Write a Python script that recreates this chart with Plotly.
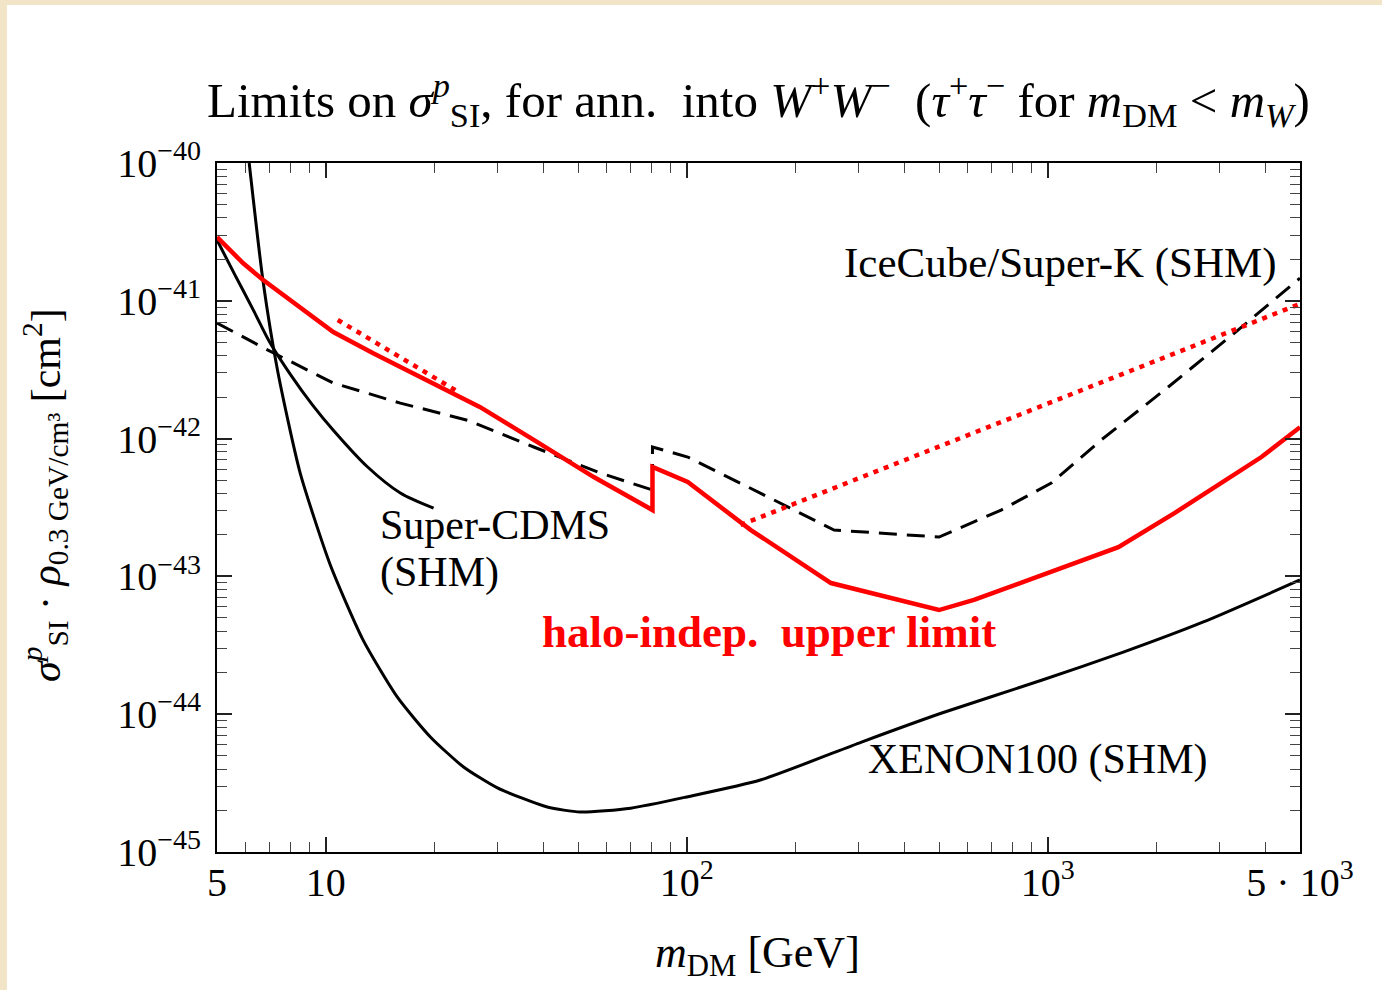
import plotly.graph_objects as go

# ---------------- data ----------------
red_m = [5, 5.9, 6.7, 8.5, 10.5, 13.5, 16.8, 26.8, 37.7, 55.3, 80.4, 80.4, 100.7,
         150.6, 251, 500, 625, 743, 1570, 2245, 3030, 3910, 5000]
red_s = [2.90e-41, 1.88e-41, 1.42e-41, 9.0e-42, 5.94e-42, 4.18e-42, 3.15e-42, 1.69e-42,
         9.8e-43, 5.26e-43, 3.03e-43, 6.22e-43, 4.84e-43, 2.17e-43, 8.95e-44, 5.70e-44,
         6.75e-44, 7.96e-44, 1.63e-43, 2.88e-43, 4.76e-43, 7.35e-43, 1.21e-42]

red_dot1_m = [10.8, 23.6]
red_dot1_s = [7.26e-42, 2.14e-42]

red_dot2_m = [141, 5000]
red_dot2_s = [2.36e-43, 9.5e-42]

ice_m = [5, 6.9, 10.5, 16.1, 24.7, 37.7, 57.7, 80.4, 80.4, 100.7, 168, 256, 500, 743,
         1023, 1407, 2158, 3290, 5000]
ice_s = [6.90e-42, 4.40e-42, 2.53e-42, 1.81e-42, 1.36e-42, 8.69e-43, 5.62e-43, 4.24e-43,
         8.69e-43, 7.35e-43, 3.77e-43, 2.17e-43, 1.93e-43, 3.03e-43, 4.76e-43, 9.77e-43,
         2.37e-42, 5.83e-42, 1.46e-41]

cdms_m = [5, 5.6, 6.3, 7.0, 8.0, 9.2, 10.5, 13.0, 16.1, 19.9]
cdms_s = [2.76e-41, 1.55e-41, 8.6e-42, 5.0e-42, 2.9e-42, 1.75e-42, 1.15e-42, 6.3e-43,
          4.03e-43, 3.13e-43]

xe_m = [6.14, 6.7, 7.38, 8.5, 10.3, 12.7, 15.8, 19.5, 24.1, 29.9, 41.1, 50.8, 70, 100,
        160, 305, 509, 966, 1620, 2700, 5000]
xe_s = [1.0e-40, 1.416e-41, 2.99e-42, 5.62e-43, 1.21e-43, 3.45e-44, 1.33e-44, 6.84e-45,
        4.14e-45, 2.92e-45, 2.12e-45, 1.95e-45, 2.08e-45, 2.51e-45, 3.33e-45, 6.28e-45,
        1.02e-44, 1.77e-44, 2.82e-44, 4.67e-44, 9.42e-44]

x_tickvals = [5, 10, 100, 1000, 5000]
x_ticktext = ["5", "10", "10<sup>2</sup>", "10<sup>3</sup>", "5 · 10<sup>3</sup>"]
y_tickvals = [1e-45, 1e-44, 1e-43, 1e-42, 1e-41, 1e-40]
y_ticktext = ["10<sup>−45</sup>", "10<sup>−44</sup>", "10<sup>−43</sup>",
              "10<sup>−42</sup>", "10<sup>−41</sup>", "10<sup>−40</sup>"]

FONT = "Liberation Serif"
RED = "#ff0000"

fig = go.Figure()
fig.add_trace(go.Scatter(x=xe_m, y=xe_s, mode="lines", line=dict(color="black", width=3, shape="spline", smoothing=0.6)))
fig.add_trace(go.Scatter(x=cdms_m, y=cdms_s, mode="lines", line=dict(color="black", width=3, shape="spline", smoothing=0.8)))
fig.add_trace(go.Scatter(x=ice_m, y=ice_s, mode="lines", line=dict(color="black", width=3, dash="18px,10px")))
fig.add_trace(go.Scatter(x=red_dot1_m, y=red_dot1_s, mode="lines", line=dict(color=RED, width=4.5, dash="5px,6px")))
fig.add_trace(go.Scatter(x=red_dot2_m, y=red_dot2_s, mode="lines", line=dict(color=RED, width=4.5, dash="5px,6px")))
fig.add_trace(go.Scatter(x=red_m, y=red_s, mode="lines", line=dict(color=RED, width=4.5)))

axis_common = dict(
    type="log", showgrid=False, zeroline=False, showline=True, linecolor="black",
    linewidth=2, mirror="allticks", ticks="inside", ticklen=15, tickwidth=1.5,
    tickcolor="#222", tickfont=dict(family=FONT, size=40, color="black"),
    minor=dict(ticks="inside", ticklen=10, tickwidth=1.2, tickcolor="#444",
               dtick="D1", showgrid=False),
)

fig.update_xaxes(range=[0.69897, 3.69897], tickmode="array", tickvals=x_tickvals,
                 ticktext=x_ticktext, ticklabelstandoff=-6, **axis_common)
fig.update_yaxes(range=[-45, -40], tickmode="array", tickvals=y_tickvals,
                 ticktext=y_ticktext, ticklabelstandoff=6, **axis_common)

W0, H0 = 217, 852
PW, PH = 1083, 689

def px(xp):
    return (xp - W0) / PW

def py(yp):
    return (H0 - yp) / PH

fig.add_shape(type="rect", xref="paper", yref="paper", x0=px(7), x1=px(1400),
              y0=py(1000), y1=py(5), fillcolor="white", line=dict(width=0), layer="below")

anns = [
    dict(x=3.642, y=-40.726, text="IceCube/Super-K (SHM)", xanchor="right", font=dict(color="black", size=43)),
    dict(x=1.146, y=-42.627, text="Super-CDMS", xanchor="left", font=dict(color="black")),
    dict(x=1.146, y=-42.975, text="(SHM)", xanchor="left", font=dict(color="black")),
    dict(x=2.229, y=-43.403, text="<b>halo-indep.  upper limit</b>", xanchor="center", font=dict(color=RED, size=45)),
    dict(x=2.497, y=-44.332, text="XENON100 (SHM)", xanchor="left", font=dict(color="black")),
]
for a in anns:
    f = dict(family=FONT, size=42)
    f.update(a.pop("font"))
    fig.add_annotation(xref="x", yref="y", showarrow=False, yanchor="middle", font=f, **a)

fig.add_annotation(xref="paper", yref="paper", x=px(757), y=py(955), showarrow=False,
                   text="<i>m</i><sub>DM</sub> [GeV]", font=dict(family=FONT, size=44, color="black"),
                   xanchor="center", yanchor="middle")
fig.add_annotation(xref="paper", yref="paper", x=px(45), y=py(495), showarrow=False, textangle=-90,
                   text="<i>σ</i><sup><i>p</i></sup><sub>SI</sub> · <i>ρ</i><sub>0.3 GeV/cm³</sub> [cm<sup>2</sup>]",
                   font=dict(family=FONT, size=42, color="black"), xanchor="center", yanchor="middle")

fig.update_layout(
    width=1382, height=990,
    margin=dict(l=217, r=82, t=163, b=138),
    paper_bgcolor="#f2e4c6", plot_bgcolor="white",
    showlegend=False,
    title=dict(
        text="Limits on <i>σ</i><sup><i>p</i></sup><sub>SI</sub>, for ann.  into <i>W</i><sup>+</sup><i>W</i><sup>−</sup> "
             " (<i>τ</i><sup>+</sup><i>τ</i><sup>−</sup> for <i>m</i><sub>DM</sub> &lt; <i>m</i><sub><i>W</i></sub>)",
        x=0.5, xref="paper", xanchor="center", y=1 - 100 / 990, yref="container", yanchor="middle",
        font=dict(family=FONT, size=49, color="black"),
    ),
)

fig.write_html("out.html")
